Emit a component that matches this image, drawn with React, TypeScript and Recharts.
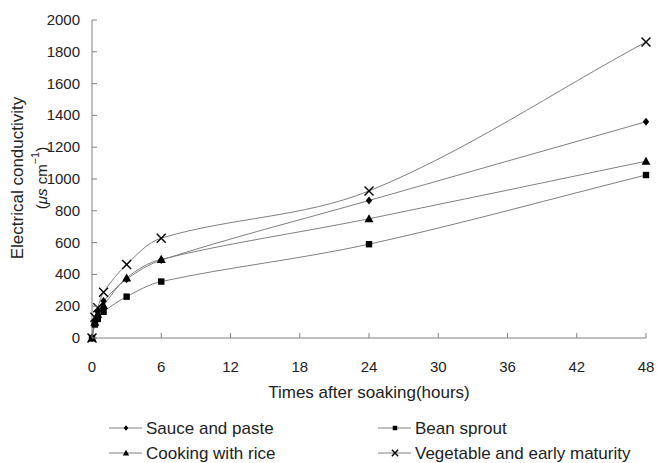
import React from 'react';
import { LineChart, Line, XAxis, YAxis } from 'recharts';

// Soaking time (hours)
const hours = [0, 0.25, 0.5, 1, 3, 6, 24, 48];

// Electrical conductivity (µS/cm) per seed group
const sauceAndPaste = [0, 110, 165, 232, 370, 490, 865, 1360];
const beanSprout = [0, 85, 120, 165, 260, 355, 590, 1025];
const cookingWithRice = [0, 100, 150, 205, 378, 495, 750, 1112];
const vegetableEarly = [0, 130, 190, 287, 462, 628, 925, 1862];

const xTicks = [0, 6, 12, 18, 24, 30, 36, 42, 48];
const yTicks = [0, 200, 400, 600, 800, 1000, 1200, 1400, 1600, 1800, 2000];

const seriesNames = {
  sauce: 'Sauce and paste',
  bean: 'Bean sprout',
  cooking: 'Cooking with rice',
  veg: 'Vegetable and early maturity',
};

const data = hours.map((h, i) => ({
  h,
  sauce: sauceAndPaste[i],
  bean: beanSprout[i],
  cooking: cookingWithRice[i],
  veg: vegetableEarly[i],
}));

const FONT = '"Liberation Sans", Arial, sans-serif';
const TEXT = '#222';
const LINE = '#808080';

// Smoothed line: Bezier segments whose tangent at each point follows the
// neighbouring chord, with handle length set by the local segment length.
const smoothCurve = (context: any) => {
  let pts: [number, number][] = [];
  return {
    areaStart() {},
    areaEnd() {},
    lineStart() {
      pts = [];
    },
    point(x: number, y: number) {
      pts.push([+x, +y]);
    },
    lineEnd() {
      if (!pts.length) return;
      context.moveTo(pts[0][0], pts[0][1]);
      const dir = (i: number): [number, number] => {
        const a = pts[Math.max(0, i - 1)];
        const b = pts[Math.min(pts.length - 1, i + 1)];
        const dx = b[0] - a[0];
        const dy = b[1] - a[1];
        const len = Math.hypot(dx, dy) || 1;
        return [dx / len, dy / len];
      };
      for (let i = 0; i < pts.length - 1; i++) {
        const p1 = pts[i];
        const p2 = pts[i + 1];
        const seg = Math.hypot(p2[0] - p1[0], p2[1] - p1[1]) / 3;
        const d1 = dir(i);
        const d2 = dir(i + 1);
        context.bezierCurveTo(
          p1[0] + d1[0] * seg,
          p1[1] + d1[1] * seg,
          p2[0] - d2[0] * seg,
          p2[1] - d2[1] * seg,
          p2[0],
          p2[1]
        );
      }
    },
  };
};

type Shape = 'diamond' | 'square' | 'triangle' | 'cross';

const Marker = ({ shape, cx, cy, s = 1 }: { shape: Shape; cx: number; cy: number; s?: number }) => {
  if (shape === 'diamond') {
    const r = 4 * s;
    return <polygon points={`${cx},${cy - r} ${cx + r * 0.8},${cy} ${cx},${cy + r} ${cx - r * 0.8},${cy}`} fill="#000" />;
  }
  if (shape === 'square') {
    const r = 3.2 * s;
    return <rect x={cx - r} y={cy - r} width={2 * r} height={2 * r} fill="#000" />;
  }
  if (shape === 'triangle') {
    const r = 4.5 * s;
    return <polygon points={`${cx},${cy - r} ${cx + r},${cy + r * 0.8} ${cx - r},${cy + r * 0.8}`} fill="#000" />;
  }
  const r = 4.5 * s;
  return (
    <g stroke="#000" strokeWidth={1.4}>
      <line x1={cx - r} y1={cy - r} x2={cx + r} y2={cy + r} />
      <line x1={cx - r} y1={cy + r} x2={cx + r} y2={cy - r} />
    </g>
  );
};

const makeDot = (shape: Shape) => (props: any) => (
  <Marker key={`${shape}-${props.index}`} shape={shape} cx={props.cx} cy={props.cy} />
);

const XTick = (props: any) => {
  const { x, y, payload } = props;
  return (
    <g>
      <line x1={x} x2={x} y1={y} y2={y - 5} stroke={LINE} />
      <text x={x} y={y + 34} textAnchor="middle" fontSize={15} fontFamily={FONT} fill={TEXT}>
        {payload.value}
      </text>
    </g>
  );
};

const YTick = (props: any) => {
  const { x, y, payload } = props;
  return (
    <g>
      <line x1={x} x2={x + 5} y1={y} y2={y} stroke={LINE} />
      <text x={x - 12} y={y + 5} textAnchor="end" fontSize={15} fontFamily={FONT} fill={TEXT}>
        {payload.value}
      </text>
    </g>
  );
};

const legendItems: { key: keyof typeof seriesNames; shape: Shape; x: number; y: number }[] = [
  { key: 'sauce', shape: 'diamond', x: 109, y: 428 },
  { key: 'bean', shape: 'square', x: 378, y: 428 },
  { key: 'cooking', shape: 'triangle', x: 109, y: 453 },
  { key: 'veg', shape: 'cross', x: 378, y: 453 },
];

export default function App() {
  return (
    <div style={{ position: 'absolute', left: 0, top: 0, width: 657, height: 463, background: '#fff' }}>
      <LineChart width={657} height={463} data={data} margin={{ top: 20, right: 11, bottom: 0, left: 0 }}>
        <XAxis
          dataKey="h"
          type="number"
          domain={[0, 48]}
          ticks={xTicks}
          height={125}
          tickSize={0}
          tickMargin={0}
          tickLine={false}
          tick={<XTick />}
          axisLine={{ stroke: LINE }}
          interval={0}
        />
        <YAxis
          type="number"
          domain={[0, 2000]}
          ticks={yTicks}
          width={92}
          tickSize={0}
          tickMargin={0}
          tickLine={false}
          tick={<YTick />}
          axisLine={{ stroke: LINE }}
          interval={0}
        />
        <Line type={smoothCurve as any} dataKey="sauce" stroke={LINE} strokeWidth={1} dot={makeDot('diamond')} isAnimationActive={false} />
        <Line type={smoothCurve as any} dataKey="cooking" stroke={LINE} strokeWidth={1} dot={makeDot('triangle')} isAnimationActive={false} />
        <Line type={smoothCurve as any} dataKey="veg" stroke={LINE} strokeWidth={1} dot={makeDot('cross')} isAnimationActive={false} />
        <Line type={smoothCurve as any} dataKey="bean" stroke={LINE} strokeWidth={1} dot={makeDot('square')} isAnimationActive={false} />
      </LineChart>
      <svg
        width={657}
        height={463}
        style={{ position: 'absolute', left: 0, top: 0, pointerEvents: 'none' }}
      >
        <g transform="translate(23,178) rotate(-90)">
          <text x={0} y={0} textAnchor="middle" fontSize={17} fontFamily={FONT} fill={TEXT}>
            Electrical conductivity
          </text>
        </g>
        <g transform="translate(47,178) rotate(-90)">
          <text x={0} y={0} textAnchor="middle" fontSize={15} fontFamily={FONT} fill={TEXT}>
            (
            <tspan fontStyle="italic">μs</tspan>
            <tspan> cm</tspan>
            <tspan dy={-8} fontSize={11}>−1</tspan>
            <tspan dy={8}>)</tspan>
          </text>
        </g>
        <text x={369} y={398} textAnchor="middle" fontSize={17} fontFamily={FONT} fill={TEXT}>
          Times after soaking(hours)
        </text>
        {legendItems.map((it) => (
          <g key={it.key}>
            <line x1={it.x} x2={it.x + 33} y1={it.y} y2={it.y} stroke={LINE} />
            <Marker shape={it.shape} cx={it.x + 17} cy={it.y} s={0.7} />
            <text x={it.x + 37} y={it.y + 6} fontSize={17} fontFamily={FONT} fill={TEXT}>
              {seriesNames[it.key]}
            </text>
          </g>
        ))}
      </svg>
    </div>
  );
}
